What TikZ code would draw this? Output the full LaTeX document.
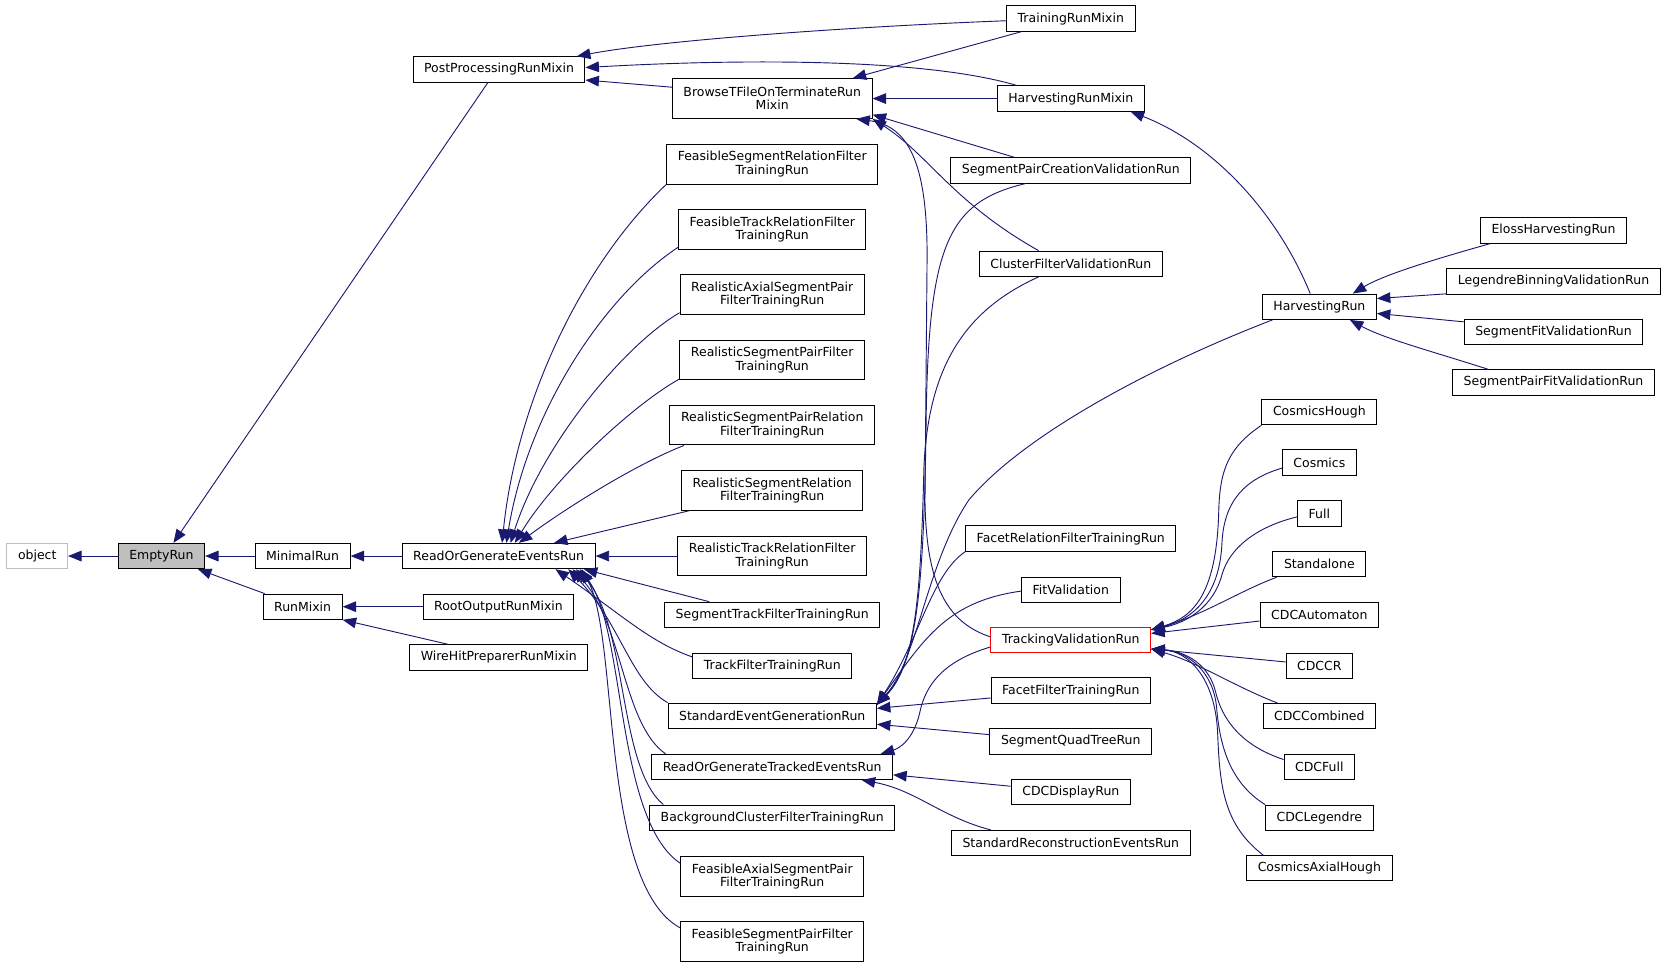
\documentclass[tikz,border=0pt]{standalone}
\usepackage{fontspec}
\setmainfont{DejaVu Sans}
\usetikzlibrary{arrows.meta}
\definecolor{edgeblue}{HTML}{191970}
\definecolor{boxgray}{HTML}{BFBFBF}
\begin{document}
\begin{tikzpicture}[x=0.75pt,y=-0.75pt,
    cls/.style={draw=black,fill=white,line width=0.7pt,inner xsep=7.8pt,inner ysep=0pt,minimum height=17.8pt,font=\fontsize{8.8}{9.4}\selectfont},
    cls2/.style={cls,align=center,minimum height=28pt},
    inh/.style={draw=edgeblue,line width=0.65pt,-{Triangle[length=9.5pt,width=7.5pt]}}]
  \useasboundingbox (0,0) rectangle (1568,909);
  % base classes
  \node[cls,draw=boxgray] (object) at (35,522.4) {object};
  \node[cls,fill=boxgray] (emptyrun) at (151.6,522.4) {EmptyRun};
  \node[cls] (minimalrun) at (284.3,522.4) {MinimalRun};
  \node[cls] (runmixin) at (284.3,570) {RunMixin};
  \node[cls] (postproc) at (468.8,65.2) {PostProcessingRunMixin};
  \node[cls] (readgen) at (468.5,522.4) {ReadOrGenerateEventsRun};
  \node[cls] (rootout) at (468.3,570) {RootOutputRunMixin};
  \node[cls] (wirehit) at (468.6,617.6) {WireHitPreparerRunMixin};
  % third column
  \node[cls2] (browse) at (725.5,92.6) {BrowseTFileOnTerminateRun\\Mixin};
  \node[cls2] (feasegrel) at (725.5,154.2) {FeasibleSegmentRelationFilter\\TrainingRun};
  \node[cls2] (featrkrel) at (725.5,215.4) {FeasibleTrackRelationFilter\\TrainingRun};
  \node[cls2] (realaxpair) at (725.5,276.8) {RealisticAxialSegmentPair\\FilterTrainingRun};
  \node[cls2] (realsegpair) at (725.5,338.3) {RealisticSegmentPairFilter\\TrainingRun};
  \node[cls2] (realsegpairrel) at (725.5,399.4) {RealisticSegmentPairRelation\\FilterTrainingRun};
  \node[cls2] (realsegrel) at (725.5,460.6) {RealisticSegmentRelation\\FilterTrainingRun};
  \node[cls2] (realtrkrel) at (725.5,522.4) {RealisticTrackRelationFilter\\TrainingRun};
  \node[cls] (segtrk) at (725.5,577.6) {SegmentTrackFilterTrainingRun};
  \node[cls] (trkfilter) at (725.5,625.5) {TrackFilterTrainingRun};
  \node[cls] (stdevgen) at (725.5,672.4) {StandardEventGenerationRun};
  \node[cls] (readtracked) at (725.5,720.5) {ReadOrGenerateTrackedEventsRun};
  \node[cls] (bgcluster) at (725.5,768.2) {BackgroundClusterFilterTrainingRun};
  \node[cls2] (feaaxpair) at (725.5,823.2) {FeasibleAxialSegmentPair\\FilterTrainingRun};
  \node[cls2] (feasegpair) at (725.5,884.4) {FeasibleSegmentPairFilter\\TrainingRun};
  % fourth column
  \node[cls] (trainmixin) at (1006,17.5) {TrainingRunMixin};
  \node[cls] (harvmixin) at (1006,92.6) {HarvestingRunMixin};
  \node[cls] (segpaircreate) at (1006,160.2) {SegmentPairCreationValidationRun};
  \node[cls] (clusterval) at (1006,247.8) {ClusterFilterValidationRun};
  \node[cls] (facetrel) at (1006,506) {FacetRelationFilterTrainingRun};
  \node[cls] (fitval) at (1006,554) {FitValidation};
  \node[cls,draw=red] (trackval) at (1006,601.4) {TrackingValidationRun};
  \node[cls] (facetfilter) at (1006,648.8) {FacetFilterTrainingRun};
  \node[cls] (quadtree) at (1006,696.6) {SegmentQuadTreeRun};
  \node[cls] (cdcdisplay) at (1006,744.4) {CDCDisplayRun};
  \node[cls] (stdreco) at (1006,792) {StandardReconstructionEventsRun};
  % fifth column
  \node[cls] (harvrun) at (1239.5,288.2) {HarvestingRun};
  \node[cls] (coshough) at (1239.5,387.2) {CosmicsHough};
  \node[cls] (cosmics) at (1239.5,434.5) {Cosmics};
  \node[cls] (full) at (1239.5,482.5) {Full};
  \node[cls] (standalone) at (1239.5,530) {Standalone};
  \node[cls] (automaton) at (1239.5,577.7) {CDCAutomaton};
  \node[cls] (cdccr) at (1239.5,625.5) {CDCCR};
  \node[cls] (combined) at (1239.5,672.8) {CDCCombined};
  \node[cls] (cdcfull) at (1239.5,720.5) {CDCFull};
  \node[cls] (legendre) at (1239.5,768.2) {CDCLegendre};
  \node[cls] (axialhough) at (1239.5,815.7) {CosmicsAxialHough};
  % sixth column
  \node[cls] (eloss) at (1459.5,216.6) {ElossHarvestingRun};
  \node[cls] (legbin) at (1459.5,264.4) {LegendreBinningValidationRun};
  \node[cls] (segfit) at (1459.5,311.7) {SegmentFitValidationRun};
  \node[cls] (segpairfit) at (1459.5,359.3) {SegmentPairFitValidationRun};
  % inheritance, left part
  \draw[inh] (emptyrun) -- (object);
  \draw[inh] ([xshift=-7.8pt]postproc.south) -- ([xshift=8.5pt]emptyrun.north);
  \draw[inh] (minimalrun) -- (emptyrun);
  \draw[inh] ([xshift=1.5pt]runmixin.north west) -- ([xshift=-5pt]emptyrun.south east);
  \draw[inh] (readgen) -- (minimalrun);
  \draw[inh] (rootout) -- (runmixin);
  \draw[inh] ([xshift=-35.9pt]wirehit.north) -- (runmixin.south east);
  % mixins
  \draw[inh] ([yshift=-1.5pt]trainmixin.west) .. controls (800,25) and (620,38) .. ([xshift=-6pt]postproc.north east);
  \draw[inh] ([xshift=14pt]harvmixin.north west) .. controls (870,55) and (700,55) .. ([yshift=1.3pt]postproc.east);
  \draw[inh] ([yshift=8pt]browse.west) -- ([yshift=-7.5pt]postproc.east);
  \draw[inh] ([xshift=-35pt]trainmixin.south) -- ([xshift=-14pt]browse.north east);
  \draw[inh] (harvmixin) -- (browse);
  \draw[inh] ([xshift=-39.6pt]segpaircreate.north) -- ([yshift=3pt]browse.south east);
  \draw[inh] ([xshift=-22.7pt]clusterval.north) .. controls (895,190) and (872,145) .. (browse.south east);
  \draw[inh] ([yshift=2.3pt]trackval.west) .. controls (890,585) and (870,550) .. (869,470) -- (871,240) .. controls (871,150) and (852,118) .. ([xshift=-11.5pt]browse.south east);
  % standard event generation
  \draw[inh] ([xshift=-32.2pt]segpaircreate.south) .. controls (890,190) and (872,230) .. (870,400) .. controls (868,560) and (860,625) .. ([yshift=-1.5pt]stdevgen.north east);
  \draw[inh] ([xshift=-22.7pt]clusterval.south) .. controls (910,290) and (872,340) .. (868,440) .. controls (865,560) and (860,625) .. ([yshift=-1.5pt]stdevgen.north east);
  \draw[inh] ([xshift=7.5pt]harvrun.south west) .. controls (1080,345) and (960,410) .. (910,470) .. controls (870,530) and (862,620) .. ([yshift=-1.5pt]stdevgen.north east);
  \draw[inh] (facetrel.south west) .. controls (875,540) and (864,600) .. ([yshift=-1.5pt]stdevgen.north east);
  \draw[inh] ([yshift=-1pt]fitval.west) .. controls (890,565) and (868,600) .. ([yshift=-1.5pt]stdevgen.north east);
  \draw[inh] ([yshift=-5.2pt]facetfilter.west) -- ([yshift=5.2pt]stdevgen.east);
  \draw[inh] ([yshift=4.8pt]quadtree.west) -- ([yshift=-6pt]stdevgen.east);
  % tracked events
  \draw[inh] ([yshift=-4.8pt]trackval.west) .. controls (890,620) and (870,640) .. (864,670) .. controls (858,695) and (845,703) .. ([xshift=-8.7pt]readtracked.north east);
  \draw[inh] ([yshift=4.3pt]cdcdisplay.west) -- ([yshift=-5.6pt]readtracked.east);
  \draw[inh] ([xshift=-56.4pt]stdreco.north) .. controls (885,768) and (860,742) .. ([xshift=63pt]readtracked.south);
  % harvesting
  \draw[inh] ([xshift=-6.4pt]harvrun.north) .. controls (1200,200) and (1140,135) .. ([xshift=-10pt]harvmixin.south east);
  \draw[inh] ([xshift=7pt]eloss.south west) .. controls (1350,243) and (1300,258) .. ([xshift=-17pt]harvrun.north east);
  \draw[inh] ([yshift=0.5pt]legbin.south west) -- ([yshift=5.8pt]harvrun.east);
  \draw[inh] ([yshift=7pt]segfit.west) -- ([yshift=-4.7pt]harvrun.east);
  \draw[inh] ([xshift=-46pt]segpairfit.north) .. controls (1345,330) and (1300,318) .. ([xshift=-19pt]harvrun.south east);
  % tracking validation
  \draw[inh] (coshough.south west) .. controls (1155,420) and (1146,440) .. (1145,480) .. controls (1143,560) and (1120,580) .. ([yshift=-2pt]trackval.north east);
  \draw[inh] ([yshift=-4pt]cosmics.west) .. controls (1170,450) and (1150,470) .. (1148,510) .. controls (1146,560) and (1120,582) .. ([yshift=-2pt]trackval.north east);
  \draw[inh] ([yshift=-2.3pt]full.west) .. controls (1180,495) and (1155,515) .. (1148,540) .. controls (1140,570) and (1115,585) .. ([yshift=-2pt]trackval.north east);
  \draw[inh] ([xshift=3pt]standalone.south west) .. controls (1165,555) and (1130,578) .. ([yshift=-2pt]trackval.north east);
  \draw[inh] ([yshift=-4.3pt]automaton.west) -- ([yshift=-4.5pt]trackval.north east);
  \draw[inh] ([yshift=2.7pt]cdccr.west) -- ([yshift=3pt]trackval.south east);
  \draw[inh] ([xshift=10.5pt]combined.north west) .. controls (1160,645) and (1125,622) .. ([yshift=3pt]trackval.south east);
  \draw[inh] ([yshift=5.2pt]cdcfull.west) .. controls (1165,700) and (1148,675) .. (1142,650) .. controls (1136,625) and (1115,612) .. ([yshift=3pt]trackval.south east);
  \draw[inh] (legendre.north west) .. controls (1155,735) and (1146,700) .. (1143,665) .. controls (1140,630) and (1115,612) .. ([yshift=3pt]trackval.south east);
  \draw[inh] ([xshift=12pt]axialhough.north west) .. controls (1150,775) and (1146,740) .. (1144,690) .. controls (1142,635) and (1115,612) .. ([yshift=3pt]trackval.south east);
  % read or generate events
  \draw[inh] (feasegrel.south west) .. controls (545,250) and (485,380) .. ([xshift=2.4pt]readgen.north);
  \draw[inh] ([yshift=1.6pt]featrkrel.south west) .. controls (565,280) and (495,390) .. ([xshift=5.4pt]readgen.north);
  \draw[inh] ([yshift=1.6pt]realaxpair.south west) .. controls (585,325) and (508,420) .. ([xshift=8.4pt]readgen.north);
  \draw[inh] ([yshift=1pt]realsegpair.south west) .. controls (595,380) and (520,450) .. ([xshift=11.4pt]readgen.north);
  \draw[inh] ([xshift=10.2pt]realsegpairrel.south west) .. controls (600,435) and (535,475) .. ([xshift=14.2pt]readgen.north);
  \draw[inh] ([xshift=6pt]realsegrel.south west) -- ([xshift=39pt]readgen.north);
  \draw[inh] (realtrkrel) -- (readgen);
  \draw[inh] ([xshift=31.7pt]segtrk.north west) -- ([xshift=60pt]readgen.south);
  \draw[inh] ([yshift=-3pt]trkfilter.north west) .. controls (610,603) and (585,578) .. ([xshift=40pt]readgen.south);
  \draw[inh] (stdevgen.north west) .. controls (592,640) and (583,585) .. ([xshift=49pt]readgen.south);
  \draw[inh] ([xshift=10pt]readtracked.north west) .. controls (585,680) and (585,585) .. ([xshift=52pt]readgen.south);
  \draw[inh] ([xshift=10pt]bgcluster.north west) .. controls (580,720) and (590,585) .. ([xshift=54.5pt]readgen.south);
  \draw[inh] ([yshift=-5.2pt]feaaxpair.north west) .. controls (578,770) and (588,590) .. ([xshift=57pt]readgen.south);
  \draw[inh] ([yshift=-4.8pt]feasegpair.north west) .. controls (563,830) and (582,600) .. ([xshift=58.5pt]readgen.south);
\end{tikzpicture}
\end{document}
